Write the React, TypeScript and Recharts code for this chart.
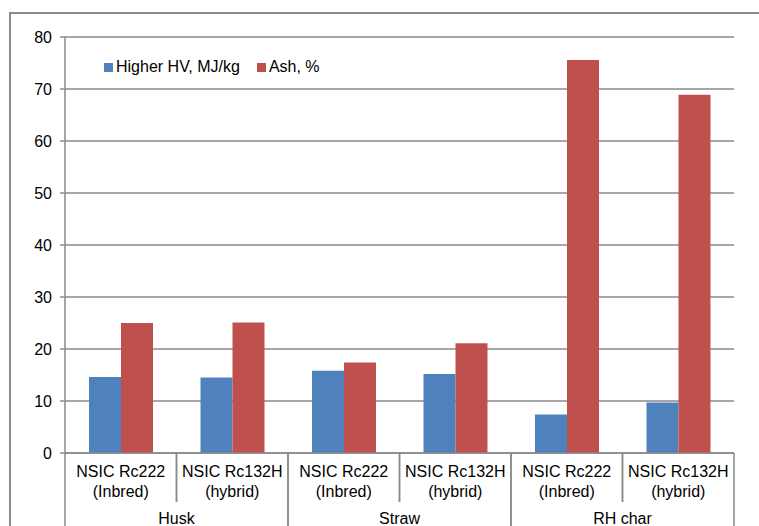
import { BarChart, Bar, XAxis, YAxis, CartesianGrid, Legend } from 'recharts';

const groups = ['Husk', 'Husk', 'Straw', 'Straw', 'RH char', 'RH char'];
const varieties = ['NSIC Rc222', 'NSIC Rc132H', 'NSIC Rc222', 'NSIC Rc132H', 'NSIC Rc222', 'NSIC Rc132H'];
const kinds = ['(Inbred)', '(hybrid)', '(Inbred)', '(hybrid)', '(Inbred)', '(hybrid)'];
const higherHV = [14.6, 14.5, 15.8, 15.2, 7.4, 9.7];
const ash = [25.0, 25.1, 17.4, 21.1, 75.6, 68.9];
const seriesNames = ['Higher HV, MJ/kg', 'Ash, %'];
const yTicks = [0, 10, 20, 30, 40, 50, 60, 70, 80];

const data = groups.map((g, i) => ({
  cat: `${g}|${varieties[i]}|${kinds[i]}`,
  group: g,
  hv: higherHV[i],
  ash: ash[i],
}));

const W = 759;
const H = 526;
const PLOT_LEFT = 65;
const PLOT_RIGHT = 734;
const LINE = '#8a8a8a';
const FONT = "'Liberation Sans', Arial, sans-serif";
const FS = 16;

const catHalf = (PLOT_RIGHT - PLOT_LEFT) / groups.length / 2;
const groupHalf = (PLOT_RIGHT - PLOT_LEFT) / new Set(groups).size / 2;

const CategoryTick = ({ x, y, payload }: any) => {
  const [, variety, kind] = String(payload.value).split('|');
  return (
    <g>
      <line x1={x - catHalf} y1={y} x2={x - catHalf} y2={y + 49} stroke={LINE} strokeWidth={1.5} />
      <line x1={x + catHalf} y1={y} x2={x + catHalf} y2={y + 49} stroke={LINE} strokeWidth={1.5} />
      <text x={x} y={y + 24} textAnchor="middle" fontSize={FS} fill="#000">{variety}</text>
      <text x={x} y={y + 44} textAnchor="middle" fontSize={FS} fill="#000">{kind}</text>
    </g>
  );
};

const GroupTick = ({ x, y, payload }: any) => (
  <g>
    <line x1={x - groupHalf} y1={y} x2={x - groupHalf} y2={y + 40} stroke={LINE} strokeWidth={1.5} />
    <line x1={x + groupHalf} y1={y} x2={x + groupHalf} y2={y + 40} stroke={LINE} strokeWidth={1.5} />
    <text x={x} y={y + 22} textAnchor="middle" fontSize={FS} fill="#000">{payload.value}</text>
  </g>
);

const LegendContent = ({ payload }: any) => {
  const items = [...(payload || [])].sort(
    (a: any, b: any) => seriesNames.indexOf(a.value) - seriesNames.indexOf(b.value)
  );
  return (
    <div style={{ display: 'flex', fontSize: FS, fontFamily: FONT, color: '#000', whiteSpace: 'nowrap' }}>
      {items.map((p: any) => (
        <div key={p.value} style={{ display: 'flex', alignItems: 'center', marginRight: 17 }}>
          <span style={{ width: 9, height: 9, background: p.color, marginRight: 3, display: 'inline-block' }} />
          {p.value}
        </div>
      ))}
    </div>
  );
};

export default function App() {
  return (
    <div style={{ position: 'absolute', left: 0, top: 0, width: W, height: H, overflow: 'hidden', background: '#fff' }}>
      <div
        style={{
          position: 'absolute',
          left: 9,
          top: 12,
          width: W + 20,
          height: H + 20,
          border: `2px solid ${LINE}`,
        }}
      />
      <div style={{ position: 'absolute', left: 0, top: 0 }}>
        <BarChart
          width={W}
          height={H}
          data={data}
          margin={{ top: 37, right: W - PLOT_RIGHT, bottom: 0, left: 0 }}
          barSize={32}
          barGap={0}
          style={{ fontFamily: FONT }}
        >
          <CartesianGrid vertical={false} stroke={LINE} strokeWidth={1.5} />
          <YAxis
            width={PLOT_LEFT}
            domain={[0, 80]}
            ticks={yTicks}
            interval={0}
            tickSize={5}
            tickMargin={8}
            tick={{ fontSize: FS, fill: '#000' }}
            axisLine={{ stroke: LINE, strokeWidth: 1.5 }}
            tickLine={{ stroke: LINE, strokeWidth: 1.5 }}
          />
          <XAxis
            dataKey="cat"
            height={49}
            interval={0}
            tickSize={0}
            tickMargin={0}
            tick={<CategoryTick />}
            axisLine={{ stroke: LINE, strokeWidth: 1.5 }}
            tickLine={false}
          />
          <XAxis
            xAxisId="group"
            dataKey="group"
            allowDuplicatedCategory={false}
            height={24}
            interval={0}
            tickSize={0}
            tickMargin={0}
            tick={<GroupTick />}
            axisLine={false}
            tickLine={false}
          />
          <Legend
            layout="horizontal"
            verticalAlign="middle"
            align="center"
            content={<LegendContent />}
            wrapperStyle={{ position: 'absolute', left: 104, top: 58, width: 'auto' }}
          />
          <Bar dataKey="hv" name={seriesNames[0]} fill="#4F81BD" isAnimationActive={false} />
          <Bar dataKey="ash" name={seriesNames[1]} fill="#C0504D" isAnimationActive={false} />
        </BarChart>
      </div>
    </div>
  );
}
